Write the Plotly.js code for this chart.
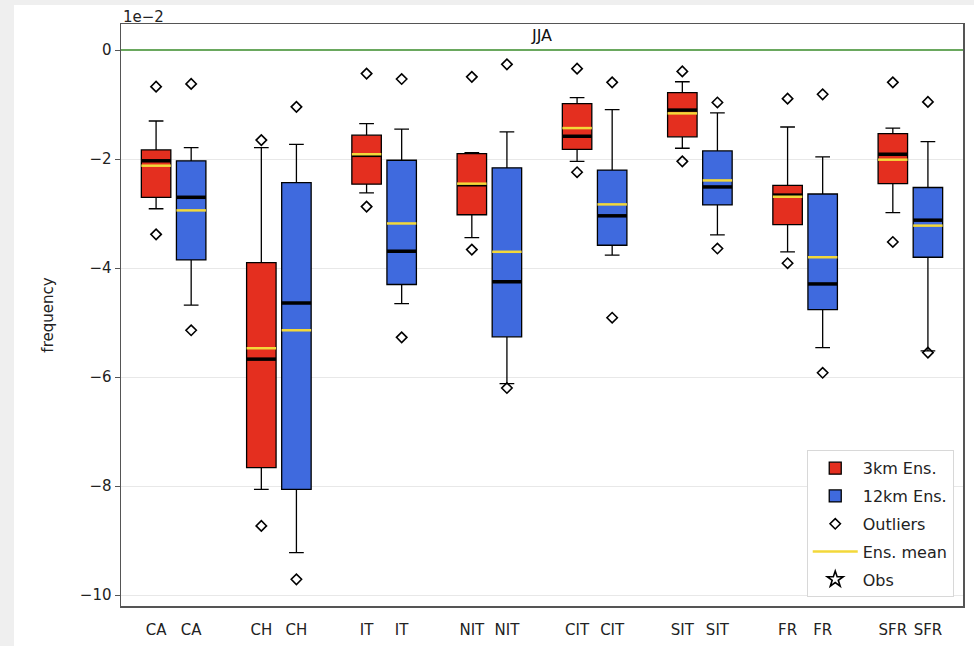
<!DOCTYPE html>
<html>
<head>
<meta charset="utf-8">
<script src="https://cdn.plot.ly/plotly-3.0.1.min.js"></script>
<style>
html,body{margin:0;padding:0;background:#efefef;}
#chart{position:absolute;left:14px;top:5px;width:960px;height:641px;background:#fff;}
</style>
</head>
<body>
<div id="chart"></div>
<script>
// Data (units of 1e-2)
const regions = ["CA","CH","IT","NIT","CIT","SIT","FR","SFR"];
const posRed  = [1,4,7,10,13,16,19,22];
const posBlue = [2,5,8,11,14,17,20,23];

// 3km ensemble
const redLower  = [-2.91,-8.06,-2.62,-3.44,-2.04,-1.80,-3.70,-2.98];
const redQ1     = [-2.70,-7.66,-2.46,-3.02,-1.82,-1.59,-3.20,-2.45];
const redMedian = [-2.03,-5.67,-1.93,-2.47,-1.58,-1.10,-2.66,-1.91];
const redMean   = [-2.12,-5.47,-1.91,-2.45,-1.43,-1.16,-2.69,-2.01];
const redQ3     = [-1.83,-3.90,-1.56,-1.90,-0.98,-0.78,-2.48,-1.53];
const redUpper  = [-1.30,-1.79,-1.35,-1.88,-0.87,-0.58,-1.41,-1.43];
const redOutliers = [[-0.67,-3.38],[-1.65,-8.73],[-0.43,-2.87],[-0.49,-3.66],[-0.34,-2.24],[-0.39,-2.04],[-0.89,-3.91],[-0.59,-3.52]];

// 12km ensemble
const blueLower  = [-4.68,-9.22,-4.65,-6.12,-3.76,-3.39,-5.46,-5.52];
const blueQ1     = [-3.85,-8.06,-4.30,-5.26,-3.58,-2.84,-4.76,-3.80];
const blueMedian = [-2.70,-4.64,-3.69,-4.25,-3.04,-2.51,-4.29,-3.12];
const blueMean   = [-2.94,-5.14,-3.18,-3.70,-2.83,-2.39,-3.80,-3.22];
const blueQ3     = [-2.03,-2.43,-2.02,-2.16,-2.20,-1.85,-2.64,-2.52];
const blueUpper  = [-1.79,-1.73,-1.45,-1.50,-1.09,-1.15,-1.96,-1.68];
const blueOutliers = [[-0.62,-5.14],[-1.04,-9.71],[-0.53,-5.27],[-0.26,-6.20],[-0.59,-4.91],[-0.96,-3.64],[-0.81,-5.92],[-0.95,-5.55]];

const RED = "#e42f1f", BLUE = "#3f6ade", YEL = "#f3d83a";
const HALF = 0.42;

function segs(pos, vals){
  const x=[], y=[];
  pos.forEach((p,i)=>{ x.push(p-HALF,p+HALF,null); y.push(vals[i],vals[i],null); });
  return {x,y};
}
function pts(pos, outs){
  const x=[], y=[];
  pos.forEach((p,i)=>{ outs[i].forEach(v=>{x.push(p); y.push(v);}); });
  return {x,y};
}

const boxCommon = {type:"box", boxpoints:false, width:0.84, whiskerwidth:0.5,
  line:{color:"#000", width:1.3}, hoverinfo:"skip"};

const traces = [];
traces.push(Object.assign({}, boxCommon, {name:"3km Ens.", x:posRed, q1:redQ1, median:redMedian, q3:redQ3,
  lowerfence:redLower, upperfence:redUpper, fillcolor:RED, legendgroup:"a"}));
traces.push(Object.assign({}, boxCommon, {name:"12km Ens.", x:posBlue, q1:blueQ1, median:blueMedian, q3:blueQ3,
  lowerfence:blueLower, upperfence:blueUpper, fillcolor:BLUE, legendgroup:"b"}));

const mr = segs(posRed, redMedian), mb = segs(posBlue, blueMedian);
traces.push({type:"scatter", mode:"lines", x:mr.x.concat(mb.x), y:mr.y.concat(mb.y),
  line:{color:"#000", width:3.5}, showlegend:false, hoverinfo:"skip"});

const o1 = pts(posRed, redOutliers), o2 = pts(posBlue, blueOutliers);
traces.push({type:"scatter", mode:"markers", name:"Outliers", x:o1.x.concat(o2.x), y:o1.y.concat(o2.y),
  marker:{symbol:"diamond-open", size:8, color:"#000", line:{width:1.6}}, legendgroup:"c"});

const er = segs(posRed, redMean), eb = segs(posBlue, blueMean);
traces.push({type:"scatter", mode:"lines", name:"Ens. mean", x:er.x.concat(eb.x), y:er.y.concat(eb.y),
  line:{color:YEL, width:2.5}, legendgroup:"d"});

traces.push({type:"scatter", mode:"markers", name:"Obs", x:[null], y:[null],
  marker:{symbol:"star-open", size:12, color:"#000", line:{width:1.6}}, legendgroup:"e"});

const tickvals = posRed.concat(posBlue);
const ticktext = regions.concat(regions);

const layout = {
  width:960, height:641,
  margin:{l:107, r:11, t:19, b:40},
  paper_bgcolor:"#fff", plot_bgcolor:"#fff",
  font:{family:"DejaVu Sans, sans-serif", size:15, color:"#222"},
  showlegend:true,
  boxmode:"overlay",
  title:{text:"JJA", x:0.5, xanchor:"center", xref:"paper", y:0.952, yref:"container", yanchor:"middle",
    font:{size:16, color:"#111"}},
  xaxis:{range:[0,24], tickvals:tickvals, ticktext:ticktext, showgrid:false, zeroline:false,
    showline:true, mirror:true, linecolor:"#555", linewidth:1.5, ticks:"", ticklen:0,
    ticklabelstandoff:9, tickfont:{size:15, color:"#222"}},
  yaxis:{range:[-10.2,0.48], tickvals:[-10,-8,-6,-4,-2,0], showgrid:true, gridcolor:"#e8e8e8", gridwidth:1,
    zeroline:true, zerolinecolor:"#6aa85e", zerolinewidth:1.8,
    showline:true, mirror:true, linecolor:"#555", linewidth:1.5, ticks:"outside", ticklen:5, tickcolor:"#555",
    tickfont:{size:15, color:"#222"},
    title:{text:"frequency", font:{size:15, color:"#222"}, standoff:22}},
  legend:{x:0.989, xanchor:"right", y:0.015, yanchor:"bottom", bgcolor:"#fff", bordercolor:"#d8d8d8", borderwidth:1,
    font:{size:16, color:"#222"}, traceorder:"grouped", tracegroupgap:4, itemwidth:45},
  annotations:[{text:"1e\u22122", xref:"paper", yref:"paper", x:0, y:1, xanchor:"left", yanchor:"bottom",
    yshift:-4, showarrow:false, font:{size:15, color:"#222"}}]
};

Plotly.newPlot("chart", traces, layout, {displayModeBar:false, staticPlot:true});
</script>
</body>
</html>
